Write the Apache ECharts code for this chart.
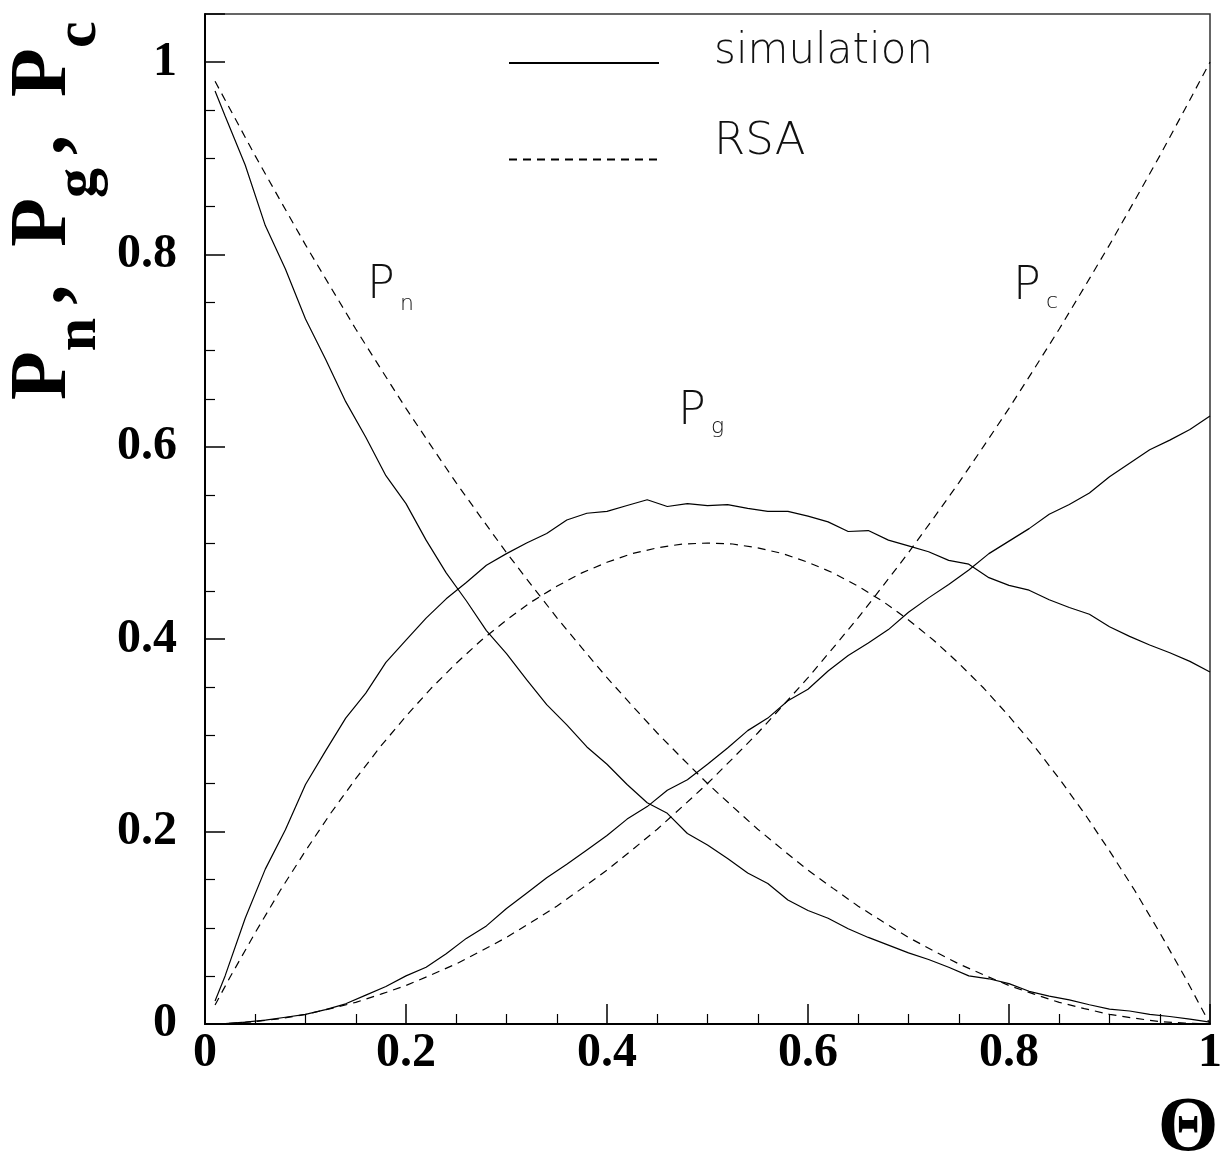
<!DOCTYPE html>
<html>
<head>
<meta charset="utf-8">
<script src="https://cdn.jsdelivr.net/npm/echarts@6/dist/echarts.min.js"></script>
<style>
html,body{margin:0;padding:0;background:#fff;}
#chart{width:1225px;height:1160px;}
</style>
</head>
<body>
<div id="chart"></div>
<script>
// ---- data ----
const simTheta = [0.01,0.02,0.04,0.06,0.08,0.10,0.12,0.14,0.16,0.18,0.20,0.22,0.24,0.26,0.28,0.30,0.32,0.34,0.36,0.38,0.40,0.42,0.44,0.46,0.48,0.50,0.52,0.54,0.56,0.58,0.60,0.62,0.64,0.66,0.68,0.70,0.72,0.74,0.76,0.78,0.80,0.82,0.84,0.86,0.88,0.90,0.92,0.94,0.96,0.98,1.00];
const simPn = [0.970,0.944,0.893,0.830,0.785,0.733,0.691,0.647,0.610,0.570,0.541,0.503,0.469,0.440,0.409,0.385,0.358,0.332,0.311,0.288,0.270,0.249,0.230,0.219,0.198,0.186,0.172,0.157,0.146,0.129,0.118,0.110,0.099,0.090,0.082,0.074,0.067,0.059,0.050,0.047,0.042,0.034,0.029,0.025,0.020,0.0155,0.0135,0.010,0.0078,0.005,0.002];
const simPg = [0.024,0.050,0.110,0.161,0.202,0.249,0.284,0.318,0.344,0.376,0.399,0.422,0.442,0.459,0.477,0.489,0.500,0.510,0.524,0.531,0.533,0.539,0.545,0.538,0.541,0.539,0.540,0.536,0.533,0.533,0.528,0.522,0.512,0.513,0.503,0.497,0.491,0.482,0.478,0.464,0.456,0.451,0.441,0.433,0.426,0.413,0.403,0.394,0.386,0.377,0.366];
const simPc = [0.000,0.0005,0.002,0.004,0.007,0.010,0.015,0.021,0.030,0.039,0.050,0.059,0.073,0.089,0.102,0.120,0.136,0.152,0.166,0.181,0.196,0.213,0.226,0.243,0.254,0.270,0.287,0.305,0.318,0.336,0.348,0.367,0.383,0.396,0.410,0.428,0.443,0.457,0.472,0.489,0.502,0.515,0.530,0.540,0.552,0.569,0.583,0.597,0.607,0.618,0.632];

const rsaTheta = [0.01,0.025,0.05,0.075,0.1,0.125,0.15,0.175,0.2,0.225,0.25,0.275,0.3,0.325,0.35,0.375,0.4,0.425,0.45,0.475,0.5,0.525,0.55,0.575,0.6,0.625,0.65,0.675,0.7,0.725,0.75,0.775,0.8,0.825,0.85,0.875,0.9,0.925,0.95,0.975,1.0];
const rsaPn = [0.980,0.951,0.9025,0.856,0.81,0.766,0.7225,0.681,0.64,0.601,0.5625,0.526,0.49,0.456,0.4225,0.391,0.36,0.331,0.3025,0.276,0.25,0.226,0.2025,0.181,0.16,0.141,0.1225,0.106,0.09,0.076,0.0625,0.051,0.04,0.031,0.0225,0.016,0.01,0.006,0.0025,0.001,0.0];
const rsaPg = [0.0198,0.0488,0.095,0.139,0.18,0.219,0.255,0.289,0.32,0.349,0.375,0.399,0.42,0.439,0.455,0.469,0.48,0.489,0.495,0.499,0.5,0.499,0.495,0.489,0.48,0.469,0.455,0.439,0.42,0.399,0.375,0.349,0.32,0.289,0.255,0.219,0.18,0.139,0.095,0.0488,0.0];
const rsaPc = [0.0001,0.0006,0.0025,0.0056,0.01,0.016,0.0225,0.031,0.04,0.051,0.0625,0.076,0.09,0.106,0.1225,0.141,0.16,0.181,0.2025,0.226,0.25,0.276,0.3025,0.331,0.36,0.391,0.4225,0.456,0.49,0.526,0.5625,0.601,0.64,0.681,0.7225,0.766,0.81,0.856,0.9025,0.951,1.0];

const xTickInterval = 0.2;
const yTickInterval = 0.2;
const legendNames = ['simulation', 'RSA'];

// ---- chart ----
const pairs = (xs, ys) => xs.map((x, i) => [x, ys[i]]);
const thinFont = "'DejaVu Sans', 'Lato', sans-serif";
const serif = "'Liberation Serif', 'Times New Roman', serif";

function simSeries(vals) {
  return { type: 'line', name: legendNames[0], data: pairs(simTheta, vals), symbol: 'none',
    lineStyle: { color: '#000', width: 1.2, type: 'solid' }, itemStyle: { color: '#000' }, animation: false, z: 3 };
}
function rsaSeries(vals) {
  return { type: 'line', name: legendNames[1], data: pairs(rsaTheta, vals), symbol: 'none',
    lineStyle: { color: '#000', width: 1.2, type: [8, 6] }, itemStyle: { color: '#000' }, animation: false, z: 2 };
}
const hiddenSymbol = { color: 'rgba(0,0,0,0)', borderColor: 'rgba(0,0,0,0)', borderWidth: 0, opacity: 0 };

const chart = echarts.init(document.getElementById('chart'), null, { renderer: 'canvas' });
const option = {
  backgroundColor: '#fff',
  animation: false,
  grid: { left: 205, right: 11, top: 14, bottom: 136, show: true, borderColor: '#333', borderWidth: 1.5, containLabel: false },
  legend: [
    { data: [legendNames[0]], left: 508, top: 31, padding: 0, orient: 'vertical', itemWidth: 150, itemHeight: 14,
      selectedMode: false, itemStyle: hiddenSymbol, formatter: '{t|{name}}',
      textStyle: { color: '#111', rich: { t: { fontFamily: thinFont, fontWeight: 200, fontSize: 42, color: '#111', lineHeight: 50, padding: [0, 0, 22, 50] } } } },
    { data: [legendNames[1]], left: 508, top: 120, padding: 0, orient: 'vertical', itemWidth: 150, itemHeight: 14,
      selectedMode: false, itemStyle: hiddenSymbol, formatter: '{t|{name}}',
      textStyle: { color: '#111', rich: { t: { fontFamily: thinFont, fontWeight: 200, fontSize: 45, color: '#111', lineHeight: 54, padding: [0, 0, 34, 50] } } } }
  ],
  xAxis: {
    type: 'value', min: 0, max: 1, interval: xTickInterval,
    axisLine: { show: true, onZero: false, lineStyle: { color: '#000', width: 2 } },
    axisTick: { show: true, inside: true, length: 20, lineStyle: { color: '#000', width: 1.5 } },
    minorTick: { show: true, splitNumber: 4, length: 10, lineStyle: { color: '#000', width: 1.2 } },
    splitLine: { show: false }, minorSplitLine: { show: false },
    axisLabel: { margin: 6, fontFamily: serif, fontWeight: 'bold', fontSize: 48, color: '#000', lineHeight: 48 }
  },
  yAxis: {
    type: 'value', min: 0, max: 1.05, interval: yTickInterval,
    axisLine: { show: true, onZero: false, lineStyle: { color: '#000', width: 2 } },
    axisTick: { show: true, inside: true, length: 20, lineStyle: { color: '#000', width: 1.5 } },
    minorTick: { show: true, splitNumber: 4, length: 10, lineStyle: { color: '#000', width: 1.2 } },
    splitLine: { show: false }, minorSplitLine: { show: false },
    axisLabel: { margin: 28, showMaxLabel: false, fontFamily: serif, fontWeight: 'bold', fontSize: 48, color: '#000' }
  },
  series: [simSeries(simPn), simSeries(simPg), simSeries(simPc), rsaSeries(rsaPn), rsaSeries(rsaPg), rsaSeries(rsaPc)],
  graphic: [
    { type: 'text', x: 4, y: 400, rotation: Math.PI / 2, silent: true,
      style: {
        text: '{b|P}{s|n}{c|,}{b2|P}{s|g}{c|,}{b2|P}{s|c}',
        align: 'left', verticalAlign: 'top', fill: '#000',
        rich: {
          b: { fontFamily: serif, fontWeight: 'bold', fontSize: 80, lineHeight: 80, padding: [0, 0, 25, 0], verticalAlign: 'top', fill: '#000' },
          b2: { fontFamily: serif, fontWeight: 'bold', fontSize: 80, lineHeight: 80, padding: [0, 0, 25, 38], verticalAlign: 'top', fill: '#000' },
          c: { fontFamily: serif, fontWeight: 'bold', fontSize: 80, lineHeight: 80, padding: [0, 0, 25, 13], verticalAlign: 'top', fill: '#000' },
          s: { fontFamily: serif, fontWeight: 'bold', fontSize: 60, lineHeight: 60, padding: [45, 0, 0, 0], verticalAlign: 'top', fill: '#000' }
        }
      } },
    { type: 'text', x: 1188, y: 1130, silent: true,
      style: { text: 'Θ', font: "bold 78px 'Liberation Serif', serif", fill: '#000', align: 'center', verticalAlign: 'middle' } },
    { type: 'text', x: 367, y: 286, silent: true,
      style: { text: 'P', fontFamily: thinFont, fontWeight: 200, fontSize: 46, fill: '#111', align: 'left', verticalAlign: 'middle' } },
    { type: 'text', x: 400, y: 304, silent: true,
      style: { text: 'n', fontFamily: thinFont, fontWeight: 200, fontSize: 22, fill: '#111', align: 'left', verticalAlign: 'middle' } },
    { type: 'text', x: 678, y: 412, silent: true,
      style: { text: 'P', fontFamily: thinFont, fontWeight: 200, fontSize: 46, fill: '#111', align: 'left', verticalAlign: 'middle' } },
    { type: 'text', x: 711, y: 427, silent: true,
      style: { text: 'g', fontFamily: thinFont, fontWeight: 200, fontSize: 22, fill: '#111', align: 'left', verticalAlign: 'middle' } },
    { type: 'text', x: 1013, y: 287, silent: true,
      style: { text: 'P', fontFamily: thinFont, fontWeight: 200, fontSize: 46, fill: '#111', align: 'left', verticalAlign: 'middle' } },
    { type: 'text', x: 1046, y: 302, silent: true,
      style: { text: 'c', fontFamily: thinFont, fontWeight: 200, fontSize: 22, fill: '#111', align: 'left', verticalAlign: 'middle' } }
  ]
};
chart.setOption(option);
</script>
</body>
</html>
